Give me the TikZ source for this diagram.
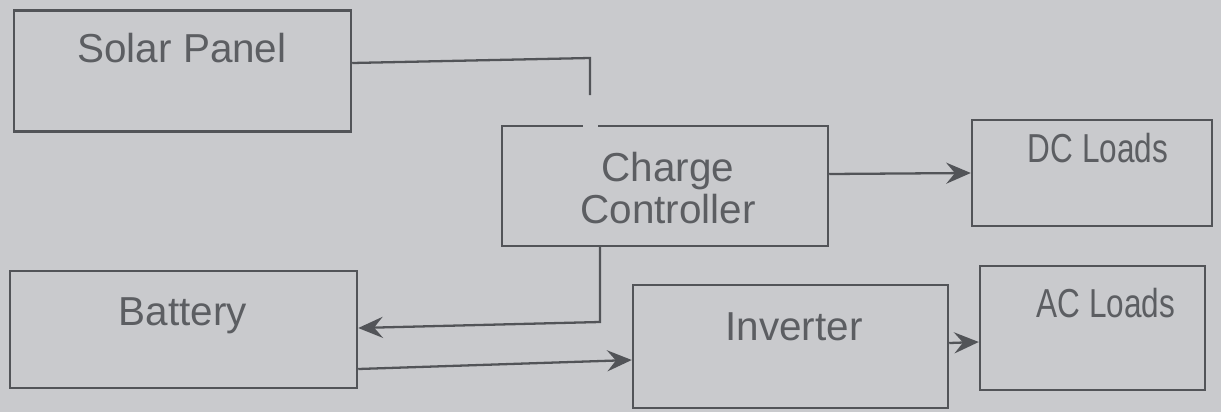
\documentclass[tikz,border=0pt]{standalone}
\usepackage{fontspec}
\setmainfont{Liberation Sans}
\usetikzlibrary{arrows.meta}
\definecolor{paper}{HTML}{C9CACD}
\definecolor{ink}{HTML}{525458}
\definecolor{txt}{HTML}{5C5E62}
\tikzset{
  blockbox/.style={draw=ink, line width=0.65pt, rectangle, inner sep=0pt},
  blocktext/.style={text=txt, font=\fontsize{11.5}{13}\selectfont, align=center, inner sep=0pt},
  narrowtext/.style={blocktext, xscale=0.78, transform shape},
  conn/.style={draw=ink, line width=0.65pt},
  arr/.style={conn, -{Stealth[length=7pt,width=6pt,inset=2.5pt]}}
}
\begin{document}
\begin{tikzpicture}[x=0.01cm,y=-0.01cm]
\fill[paper] (0,0) rectangle (1221,412);
\useasboundingbox (0,0) rectangle (1221,412);
% boxes
\node[blockbox, minimum width=3.37cm, minimum height=1.21cm] (sp) at (182.5,71) {};
\node[blockbox, minimum width=3.26cm, minimum height=1.20cm] (cc) at (665,186) {};
\node[blockbox, minimum width=2.40cm, minimum height=1.06cm] (dc) at (1092,173) {};
\node[blockbox, minimum width=3.47cm, minimum height=1.17cm] (bat) at (183.5,329.5) {};
\node[blockbox, minimum width=3.15cm, minimum height=1.23cm] (inv) at (790.5,346.5) {};
\node[blockbox, minimum width=2.25cm, minimum height=1.24cm] (ac) at (1092.5,328) {};
% gap in the top edge of the charge controller
\fill[paper] (583,124) rectangle (598,129);
% texts
\node[blocktext] (tsp) at (182,48) {Solar Panel};
\node[blocktext] (tcc) at (668,188) {Charge\\[-1pt]Controller};
\node[narrowtext] (tdc) at (1098,148) {DC Loads};
\node[blocktext] (tbat) at (183,316) {Battery};
\node[blocktext] (tinv) at (794,327) {Inverter};
\node[narrowtext] (tac) at (1106,303) {AC Loads};
% connectors
\coordinate (spend) at (590,95);
\draw[conn] (sp.east |- 0,63) -- (590,58) -- (spend);
\draw[arr] (cc.east |- 0,174) -- (dc.west |- 0,173);
\draw[arr] (cc.south -| 600,0) -- (600,322) -- (bat.east |- 0,328);
\draw[arr] (bat.east |- 0,369) -- (inv.west |- 0,360);
\draw[arr] (inv.east |- 0,343) -- (ac.west |- 0,342);
\end{tikzpicture}
\end{document}
